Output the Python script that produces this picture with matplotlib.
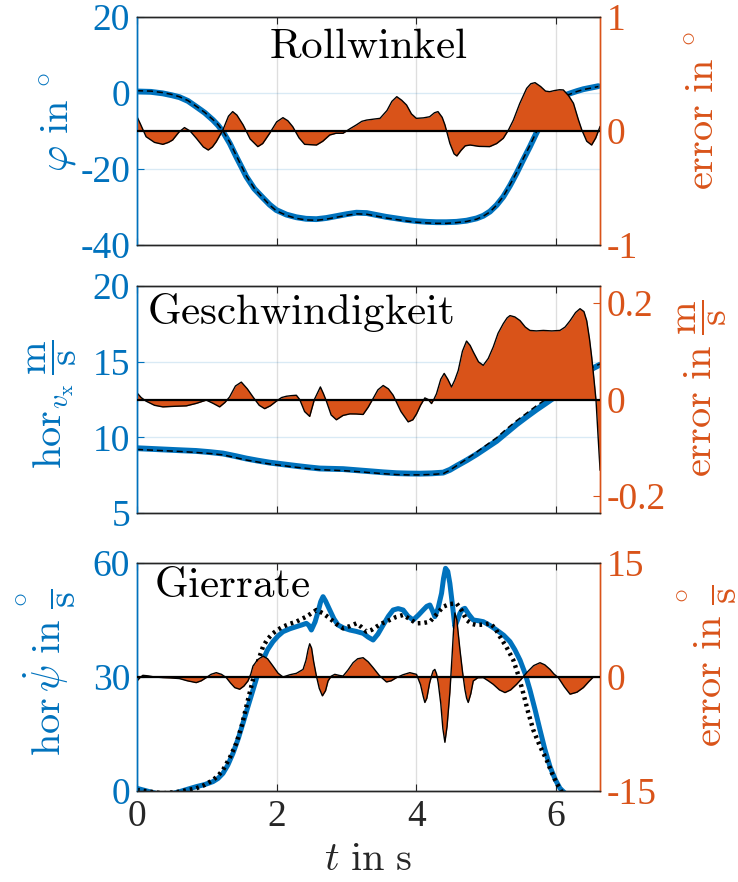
import matplotlib
matplotlib.use("Agg")
import matplotlib.pyplot as plt

plt.rcParams['font.family'] = ['Liberation Serif', 'DejaVu Serif']
plt.rcParams['mathtext.fontset'] = 'cm'
plt.rcParams['axes.unicode_minus'] = False

BLUE = '#0072BD'
ORANGE = '#D95319'
GRAY = '#262626'

# ---------------- Panel 1: Rollwinkel ----------------
t_roll = [0.0, 0.2, 0.37, 0.5, 0.609, 0.73, 0.848, 0.97, 1.087, 1.16, 1.231, 1.33, 1.422,
          1.50, 1.565, 1.68, 1.804, 1.90, 1.995, 2.14, 2.282, 2.42, 2.569, 2.71, 2.856,
          3.0, 3.142, 3.29, 3.429, 3.57, 3.716, 3.86, 4.002, 4.15, 4.289, 4.43, 4.576,
          4.72, 4.863, 4.96, 5.054, 5.15, 5.245, 5.34, 5.436, 5.53, 5.627, 5.72, 5.818,
          5.91, 6.010, 6.10, 6.201, 6.30, 6.392, 6.50, 6.607]
roll_est = [0.4, 0.3, -0.1, -0.6, -1.1, -2.1, -3.6, -5.2, -7.1, -8.5, -10.2, -13.3, -16.8,
            -19.6, -22.0, -25.2, -27.6, -29.4, -30.8, -32.0, -32.7, -33.1, -33.2, -32.9,
            -32.4, -31.9, -31.5, -31.6, -32.1, -32.6, -33.0, -33.4, -33.7, -33.9, -34.0,
            -34.0, -33.9, -33.6, -33.0, -32.3, -31.2, -29.5, -27.3, -24.4, -21.1, -17.6,
            -14.1, -10.5, -7.1, -4.2, -1.8, -0.8, -0.1, 0.5, 1.0, 1.4, 1.8]
roll_ref = [0.6, 0.5, 0.1, -0.4, -1.0, -2.0, -3.5, -5.1, -7.0, -8.3, -10.0, -13.0, -16.5,
            -19.4, -21.8, -25.1, -27.6, -29.5, -31.0, -32.2, -33.0, -33.4, -33.5, -33.2,
            -32.7, -32.2, -31.8, -31.9, -32.4, -32.9, -33.3, -33.7, -34.0, -34.2, -34.3,
            -34.3, -34.1, -33.8, -33.2, -32.4, -31.3, -29.5, -27.2, -24.2, -20.9, -17.3,
            -13.8, -10.2, -6.9, -4.1, -1.9, -0.9, -0.3, 0.4, 0.9, 1.3, 1.7]
t_roll_err = [0.0, 0.05, 0.13, 0.25, 0.37, 0.45, 0.51, 0.60, 0.68, 0.76, 0.85, 0.95, 1.02,
              1.08, 1.135, 1.23, 1.31, 1.37, 1.43, 1.52, 1.62, 1.73, 1.80, 1.90, 2.00, 2.09,
              2.16, 2.23, 2.32, 2.40, 2.48, 2.57, 2.66, 2.76, 2.85, 2.95, 3.05, 3.14, 3.22,
              3.29, 3.40, 3.48, 3.58, 3.65, 3.72, 3.79, 3.86, 3.93, 4.00, 4.10, 4.19, 4.26,
              4.31, 4.37, 4.41, 4.48, 4.54, 4.58, 4.64, 4.70, 4.77, 4.90, 5.05, 5.15, 5.245,
              5.32, 5.39, 5.48, 5.58, 5.64, 5.70, 5.78, 5.85, 5.91, 5.98, 6.05, 6.105, 6.18,
              6.25, 6.32, 6.37, 6.44, 6.51, 6.57, 6.63]
roll_err = [0.125, 0.06, -0.05, -0.10, -0.117, -0.10, -0.079, -0.01, 0.03, 0.00, -0.064,
            -0.14, -0.167, -0.14, -0.094, 0.009, 0.13, 0.17, 0.14, 0.053, -0.07, -0.137,
            -0.11, -0.02, 0.08, 0.117, 0.09, 0.038, -0.06, -0.117, -0.12, -0.123, -0.09,
            -0.035, -0.02, -0.02, 0.02, 0.053, 0.085, 0.096, 0.105, 0.111, 0.18, 0.26, 0.301,
            0.27, 0.228, 0.15, 0.111, 0.115, 0.125, 0.16, 0.17, 0.12, 0.053, -0.108, -0.20,
            -0.219, -0.17, -0.13, -0.123, -0.135, -0.137, -0.11, -0.064, 0.01, 0.096, 0.24,
            0.374, 0.415, 0.424, 0.39, 0.35, 0.345, 0.355, 0.362, 0.36, 0.31, 0.243, 0.10,
            0.009, -0.09, -0.123, -0.06, 0.038]

# ---------------- Panel 2: Geschwindigkeit ----------------
t_vel = [0.0, 0.37, 0.6, 0.848, 1.05, 1.231, 1.40, 1.565, 1.73, 1.900, 2.09, 2.282, 2.45,
         2.617, 2.78, 2.951, 3.14, 3.333, 3.52, 3.716, 3.88, 4.050, 4.22, 4.385, 4.48, 4.576,
         4.72, 4.863, 5.0, 5.149, 5.29, 5.436, 5.58, 5.723, 5.85, 5.962, 6.08, 6.201, 6.30,
         6.392, 6.535, 6.631]
vel_est = [9.28, 9.2, 9.15, 9.1, 9.02, 8.93, 8.77, 8.6, 8.46, 8.33, 8.22, 8.11, 8.02, 7.94,
           7.92, 7.9, 7.83, 7.76, 7.69, 7.63, 7.61, 7.6, 7.62, 7.67, 7.85, 8.11, 8.48, 8.88,
           9.3, 9.76, 10.3, 10.86, 11.36, 11.84, 12.24, 12.6, 13.05, 13.49, 13.83, 14.14,
           14.58, 14.8]
vel_ref = [9.2, 9.12, 9.07, 9.0, 8.93, 8.84, 8.67, 8.5, 8.37, 8.24, 8.13, 8.02, 7.94, 7.86,
           7.83, 7.8, 7.74, 7.67, 7.6, 7.54, 7.52, 7.52, 7.55, 7.6, 7.83, 8.12, 8.56, 9.02,
           9.48, 9.97, 10.55, 11.1, 11.6, 12.1, 12.5, 12.9, 13.32, 13.7, 14.0, 14.3, 14.65,
           14.85]
t_vel_err = [0.0, 0.06, 0.131, 0.25, 0.370, 0.55, 0.705, 0.85, 0.992, 1.09, 1.183, 1.26,
             1.326, 1.41, 1.494, 1.58, 1.661, 1.75, 1.828, 1.91, 1.995, 2.07, 2.139, 2.21,
             2.282, 2.33, 2.40, 2.473, 2.54, 2.626, 2.67, 2.712, 2.78, 2.855, 2.95, 3.047,
             3.14, 3.238, 3.31, 3.381, 3.45, 3.525, 3.60, 3.668, 3.78, 3.883, 3.95, 4.002,
             4.06, 4.122, 4.17, 4.217, 4.25, 4.289, 4.35, 4.399, 4.45, 4.504, 4.55, 4.600,
             4.66, 4.719, 4.77, 4.815, 4.89, 4.958, 5.03, 5.102, 5.17, 5.245, 5.30, 5.341,
             5.41, 5.484, 5.56, 5.627, 5.72, 5.818, 5.94, 6.057, 6.13, 6.201, 6.28, 6.344,
             6.40, 6.440, 6.48, 6.511, 6.545, 6.573, 6.60, 6.631]
vel_err = [0.0137, 0.004, -0.0035, -0.012, -0.0153, -0.014, -0.0132, -0.008, -0.0012,
           -0.008, -0.0153, -0.006, 0.0053, 0.028, 0.036, 0.022, 0.0053, -0.012, -0.019,
           -0.013, -0.0035, 0.004, 0.0067, 0.008, 0.0088, 0.0, -0.025, -0.035, 0.0, 0.026,
           0.012, -0.0035, -0.032, -0.042, -0.033, -0.0298, -0.030, -0.031, -0.016, 0.002,
           0.02, 0.029, 0.022, 0.0088, -0.025, -0.0463, -0.042, -0.03, -0.012, 0.0033, 0.0,
           -0.0084, 0.0, 0.012, 0.042, 0.054, 0.042, 0.026, 0.04, 0.06, 0.10, 0.121, 0.112,
           0.0986, 0.078, 0.0707, 0.085, 0.109, 0.137, 0.157, 0.169, 0.1737, 0.171, 0.1635,
           0.150, 0.143, 0.142, 0.143, 0.142, 0.143, 0.150, 0.163, 0.180, 0.188, 0.182, 0.163,
           0.125, 0.088, 0.04, -0.0015, -0.07, -0.146]

# ---------------- Panel 3: Gierrate ----------------
t_yaw = [0.0, 0.179, 0.370, 0.5, 0.609, 0.73, 0.848, 0.97, 1.087, 1.16, 1.231, 1.30, 1.374,
         1.45, 1.517, 1.59, 1.661, 1.73, 1.804, 1.87, 1.947, 2.02, 2.091, 2.19, 2.282, 2.36,
         2.425, 2.46, 2.497, 2.55, 2.593, 2.63, 2.664, 2.70, 2.760, 2.82, 2.879, 2.96, 3.047,
         3.14, 3.238, 3.31, 3.381, 3.45, 3.525, 3.60, 3.668, 3.74, 3.811, 3.88, 3.955, 4.03,
         4.098, 4.15, 4.194, 4.23, 4.265, 4.31, 4.361, 4.39, 4.418, 4.45, 4.480, 4.52, 4.552,
         4.59, 4.624, 4.66, 4.695, 4.75, 4.815, 4.89, 4.958, 5.05, 5.149, 5.25, 5.341, 5.41,
         5.484, 5.56, 5.627, 5.70, 5.771, 5.84, 5.914, 5.99, 6.057, 6.13, 6.201, 6.631]
yaw_est = [0.7, -0.18, -1.05, -0.7, -0.18, 0.5, 1.14, 1.7, 2.46, 3.3, 4.65, 6.8, 9.91, 13.8,
           17.81, 22.3, 26.58, 30.8, 34.47, 37.2, 39.3, 40.8, 41.93, 42.7, 43.25, 43.7,
           44.12, 43.6, 42.37, 44.5, 47.19, 49.8, 51.14, 50.0, 47.63, 45.3, 43.68, 42.9,
           42.37, 42.0, 41.49, 40.5, 39.74, 41.3, 43.68, 46.0, 47.63, 48.0, 47.63, 46.0,
           45.0, 46.3, 47.63, 48.6, 48.95, 47.5, 45.88, 48.0, 52.02, 56.0, 58.6, 57.8, 54.65,
           48.5, 43.25, 45.0, 46.75, 47.8, 48.07, 46.5, 45.0, 44.8, 44.56, 43.6, 42.37, 41.0,
           39.3, 37.2, 34.47, 30.8, 26.58, 21.4, 16.05, 11.0, 6.4, 3.0, 0.7, -0.6, -1.49,
           -1.49]
t_yaw_ref = [0.0, 0.370, 0.6, 0.848, 0.97, 1.087, 1.16, 1.231, 1.33, 1.422, 1.50, 1.565,
             1.64, 1.708, 1.76, 1.804, 1.87, 1.947, 2.02, 2.091, 2.19, 2.282, 2.35, 2.425,
             2.50, 2.569, 2.66, 2.760, 2.85, 2.951, 3.05, 3.142, 3.21, 3.286, 3.36, 3.429,
             3.52, 3.620, 3.71, 3.811, 3.90, 4.002, 4.10, 4.194, 4.29, 4.385, 4.48, 4.576,
             4.65, 4.719, 4.79, 4.863, 4.96, 5.054, 5.13, 5.197, 5.29, 5.388, 5.46, 5.532,
             5.60, 5.675, 5.77, 5.866, 5.94, 6.010, 6.105]
yaw_ref = [0.26, -0.61, -0.2, 0.70, 1.6, 2.89, 4.0, 5.53, 8.8, 12.54, 17.2, 22.19, 27.8,
           32.72, 35.6, 37.98, 40.0, 41.49, 42.5, 43.25, 44.0, 44.56, 45.2, 45.88, 46.8,
           47.63, 46.8, 45.44, 44.0, 42.81, 43.4, 44.12, 43.2, 41.93, 42.4, 43.25, 44.2,
           45.0, 45.8, 46.32, 45.3, 44.12, 44.2, 44.56, 46.5, 48.51, 49.2, 49.39, 47.5, 45.0,
           44.0, 43.68, 43.8, 44.12, 42.8, 40.61, 37.9, 34.47, 30.5, 25.7, 20.8, 16.05, 11.8,
           8.16, 4.8, 2.02, -1.05]
t_yaw_err = [0.0, 0.04, 0.084, 0.16, 0.25, 0.370, 0.48, 0.609, 0.72, 0.848, 0.92, 0.992,
             1.06, 1.135, 1.21, 1.278, 1.34, 1.40, 1.470, 1.53, 1.589, 1.63, 1.661, 1.73,
             1.804, 1.87, 1.947, 2.02, 2.091, 2.19, 2.282, 2.378, 2.42, 2.45, 2.473, 2.50,
             2.53, 2.569, 2.61, 2.655, 2.70, 2.736, 2.78, 2.832, 2.90, 2.951, 3.02, 3.094,
             3.16, 3.238, 3.31, 3.381, 3.47, 3.572, 3.64, 3.716, 3.81, 3.907, 4.002, 4.06,
             4.10, 4.122, 4.15, 4.19, 4.217, 4.24, 4.265, 4.29, 4.313, 4.35, 4.38, 4.409,
             4.44, 4.480, 4.51, 4.535, 4.552, 4.58, 4.624, 4.66, 4.695, 4.72, 4.743, 4.78,
             4.815, 4.88, 4.958, 5.03, 5.101, 5.19, 5.269, 5.35, 5.436, 5.51, 5.580, 5.68,
             5.771, 5.84, 5.914, 5.97, 6.033, 6.12, 6.201, 6.30, 6.392, 6.47, 6.535, 6.631]
yaw_err = [-0.52, -0.1, 0.22, 0.15, 0.0, -0.08, -0.12, -0.21, -0.5, -0.74, -0.5, -0.08,
           0.35, 0.57, 0.35, -0.08, -0.8, -1.4, -1.61, -1.2, -0.52, 0.4, 1.44, 2.3, 2.75,
           2.4, 1.44, 0.5, 0.0, 0.3, 0.48, 1.0, 2.2, 3.6, 4.37, 3.8, 2.0, 0.13, -1.5, -2.48,
           -1.8, -0.52, 0.1, 0.35, 0.2, 0.13, 0.9, 1.88, 2.4, 2.54, 2.0, 1.23, 0.2, -0.65,
           -0.5, -0.08, 0.3, 0.57, 0.35, -1.0, -2.6, -3.35, -2.8, -0.8, 0.13, 0.8, 1.0, 0.4,
           -0.74, -3.5, -6.8, -8.59, -6.5, -2.05, 2.5, 6.5, 8.43, 7.5, 3.63, 0.8, -1.61, -2.8,
           -3.35, -2.2, -0.52, -0.1, -0.08, -0.5, -0.96, -1.7, -2.05, -1.7, -0.96, -0.2, 0.57,
           1.5, 1.88, 1.6, 1.0, 0.4, -0.08, -1.3, -2.26, -2.0, -1.39, -0.6, 0.0, 0.0]

# ---------------- ticks / labels ----------------
x_ticks = [0, 2, 4, 6]
x_ticklabels = ['0', '2', '4', '6']
titles = [r'$\mathrm{Rollwinkel}$', r'$\mathrm{Geschwindigkeit}$', r'$\mathrm{Gierrate}$']
left_labels = [r'$\varphi\ \mathrm{in}\ {}^{\circ}$',
               r'$\mathrm{hor}_{v_{\mathrm{x}}}\,\dfrac{\mathrm{m}}{\mathrm{s}}$',
               r'$\mathrm{hor}\,\dot{\psi}\ \mathrm{in}\ \dfrac{{}^{\circ}}{\mathrm{s}}$']
right_labels = [r'$\mathrm{error\ in}\ {}^{\circ}$',
                r'$\mathrm{error\ in}\ \dfrac{\mathrm{m}}{\mathrm{s}}$',
                r'$\mathrm{error\ in}\ \dfrac{{}^{\circ}}{\mathrm{s}}$']
left_ticks = [[-40, -20, 0, 20], [5, 10, 15, 20], [0, 30, 60]]
left_ticklabels = [['-40', '-20', '0', '20'], ['5', '10', '15', '20'], ['0', '30', '60']]
left_lims = [(-40, 20), (5, 20), (0, 60)]
right_ticks = [[-1, 0, 1], [-0.2, 0, 0.2], [-15, 0, 15]]
right_ticklabels = [['-1', '0', '1'], ['-0.2', '0', '0.2'], ['-15', '0', '15']]
right_lims = [(-1, 1), (-0.235, 0.235), (-15, 15)]
x_label = r'$t\ \mathrm{in\ s}$'

W, H = 738, 882
fig = plt.figure(figsize=(W / 100, H / 100), dpi=100)

panel_px = [(17, 245), (286, 513), (563, 791)]
left_px, right_px = 137, 600

est_t = [t_roll, t_vel, t_yaw]
est_v = [roll_est, vel_est, yaw_est]
ref_t = [t_roll, t_vel, t_yaw_ref]
ref_v = [roll_ref, vel_ref, yaw_ref]
err_t = [t_roll_err, t_vel_err, t_yaw_err]
err_v = [roll_err, vel_err, yaw_err]

title_pos = [(0.5, 0.865, 'center'), (0.022, 0.885, 'left'), (0.036, 0.895, 'left')]
left_label_y = [0.54, 0.48, 0.52]
right_label_y = [0.59, 0.55, 0.55]
right_label_x = [1.185, 1.165, 1.165]

TICK_FS = 27
LABEL_FS = 29
TITLE_FS = 31

for i in range(3):
    top, bot = panel_px[i]
    ax = fig.add_axes([left_px / W, 1 - bot / H, (right_px - left_px) / W, (bot - top) / H])
    ax2 = ax.twinx()

    ax.set_axisbelow(True)
    for xv in x_ticks:
        ax.axvline(xv, color=GRAY, alpha=0.15, lw=1.0, zorder=0)
    for yv in left_ticks[i]:
        ax.axhline(yv, color=BLUE, alpha=0.15, lw=1.0, zorder=0)

    if i == 2:
        ax.plot(est_t[i], est_v[i], color=BLUE, lw=3.6, solid_capstyle='round',
                solid_joinstyle='round', zorder=2)
        ax.plot(ref_t[i], ref_v[i], color='black', lw=3.2, ls=(0, (0.6, 0.9)), zorder=3)
    else:
        ax.plot(est_t[i], est_v[i], color=BLUE, lw=4.2, solid_capstyle='round',
                solid_joinstyle='round', zorder=2)
        ax.plot(ref_t[i], ref_v[i], color='black', lw=1.1, ls=(0, (4, 2.5)), zorder=3)

    ax2.fill_between(err_t[i], err_v[i], 0, color=ORANGE, lw=0, zorder=1)
    ax2.plot(err_t[i], err_v[i], color='black', lw=1.0, zorder=2)
    ax2.axhline(0, color='black', lw=1.6, zorder=3)

    ax.set_xlim(0, 6.63)
    ax.set_ylim(*left_lims[i])
    ax2.set_ylim(*right_lims[i])
    ax.set_xticks(x_ticks)
    ax.set_yticks(left_ticks[i])
    ax.set_yticklabels(left_ticklabels[i])
    ax2.set_yticks(right_ticks[i])
    ax2.set_yticklabels(right_ticklabels[i])

    if i == 2:
        ax.set_xticklabels(x_ticklabels)
        ax.set_xlabel(x_label, fontsize=LABEL_FS, color=GRAY, labelpad=6)
    else:
        ax.set_xticklabels([])

    ax.tick_params(axis='x', direction='in', length=5, width=0.8, colors=GRAY,
                   labelsize=TICK_FS, top=True, pad=6)
    ax.tick_params(axis='y', direction='in', length=5, width=0.8, colors=BLUE,
                   labelsize=TICK_FS, pad=5)
    ax2.tick_params(axis='y', direction='in', length=5, width=0.8, colors=ORANGE,
                    labelsize=TICK_FS, pad=5)

    for a in (ax, ax2):
        a.spines['top'].set_color(GRAY)
        a.spines['bottom'].set_color(GRAY)
        a.spines['left'].set_color(BLUE)
        a.spines['right'].set_color(ORANGE)
        for s in a.spines.values():
            s.set_linewidth(1.0)

    ax.set_ylabel(left_labels[i], fontsize=LABEL_FS, color=BLUE)
    ax.yaxis.set_label_coords(-0.125, left_label_y[i])
    ax2.set_ylabel(right_labels[i], fontsize=LABEL_FS, color=ORANGE)
    ax2.yaxis.set_label_coords(right_label_x[i], right_label_y[i])

    tx, ty, ha = title_pos[i]
    ax2.text(tx, ty, titles[i], transform=ax.transAxes, fontsize=TITLE_FS, ha=ha,
             va='center', color='black', zorder=5)

fig.savefig('out.png', dpi=100)
